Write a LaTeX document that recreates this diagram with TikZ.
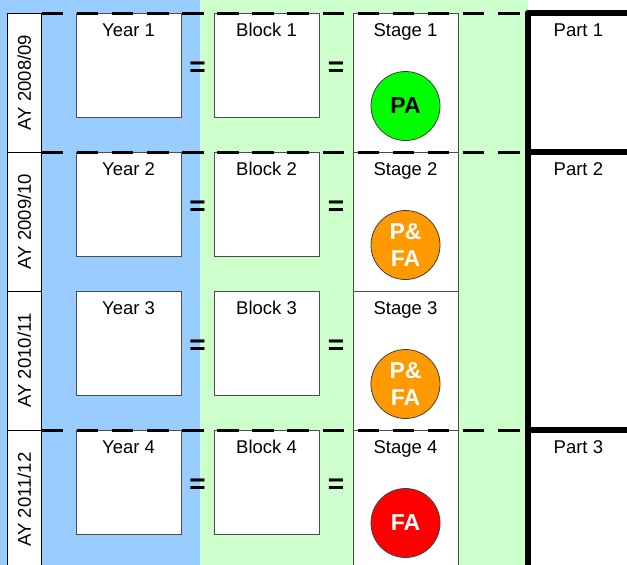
\documentclass[tikz,border=0pt]{standalone}
\usepackage{fontspec}
\setmainfont{Liberation Sans}
\usetikzlibrary{positioning,calc}
\definecolor{yearblue}{HTML}{99CCFF}
\definecolor{blockgreen}{HTML}{CCFFCC}
\definecolor{pagreen}{HTML}{00FF00}
\definecolor{pfaorange}{HTML}{FF9900}
\definecolor{fared}{HTML}{FF0000}
\tikzset{
    unit box/.style = {
        draw = black!70,
        line width = 1pt,
        fill = white,
        inner sep = 0pt,
        outer sep = 0pt,
        minimum width = 105pt,
        minimum height = 104pt,
        },
    stage box/.style = {
        unit box,
        minimum height = 139pt,
        },
    ay box/.style = {
        draw,
        line width = 1pt,
        fill = white,
        rotate = 90,
        minimum width = 139pt,
        minimum height = 34.7pt,
        outer sep = 0pt,
        font = \fontsize{18.5}{22}\selectfont,
        },
    head/.style = {
        inner sep = 0pt,
        text height = 13pt,
        text depth = 4pt,
        font = \fontsize{18.5}{22}\selectfont,
        },
    equals/.style = {
        inner sep = 0pt,
        yshift = -4pt,
        font = \fontsize{28}{28}\selectfont\bfseries,
        },
    assess/.style = {
        draw = black!75,
        circle,
        line width = 0.8pt,
        minimum size = 69pt,
        inner sep = 0pt,
        outer sep = 0pt,
        align = center,
        font = \fontsize{23}{27}\selectfont\bfseries,
        },
    part box/.style = {
        draw,
        line width = 6pt,
        fill = white,
        line join = round,
        minimum width = 112pt,
        outer sep = 0pt,
        },
    row line/.style = {
        line width = 3pt,
        dash pattern = on 21.5pt off 13.6pt,
        },
}

\begin{document}
\begin{tikzpicture}[x=1pt, y=-1pt]
    \clip (0,0) rectangle (627,565);
    \fill[yearblue] (0,0) rectangle (200,565);
    \fill[blockgreen] (200,0) rectangle (528,565);

    % academic years
    \node[ay box] (ay1) at (24.35,82.5) {AY 2008/09};
    \node[ay box] (ay2) at (24.35,221.5) {AY 2009/10};
    \node[ay box] (ay3) at (24.35,360.5) {AY 2010/11};
    \node[ay box] (ay4) at (24.35,499.5) {AY 2011/12};

    \node[unit box] (y1) at (128.5,65) {};
    \node[unit box, below=35pt of y1] (y2) {};
    \node[unit box, below=35pt of y2] (y3) {};
    \node[unit box, below=35pt of y3] (y4) {};

    \node[unit box, right=33pt of y1] (b1) {};
    \node[unit box, right=33pt of y2] (b2) {};
    \node[unit box, right=33pt of y3] (b3) {};
    \node[unit box, right=33pt of y4] (b4) {};

    \node[stage box, right=34pt of b1.north east, anchor=north west] (s1) {};
    \node[stage box, below=0pt of s1] (s2) {};
    \node[stage box, below=0pt of s2] (s3) {};
    \node[stage box, below=0pt of s3] (s4) {};

    \foreach \i in {1,...,4} {
        \node[head, below=10pt of y\i.north] (yt\i) {Year \i};
        \node[head, below=10pt of b\i.north] (bt\i) {Block \i};
        \node[head, below=10pt of s\i.north] (st\i) {Stage \i};
        \node[equals] (eq\i a) at ($(y\i.east)!0.5!(b\i.west)$) {=};
        \node[equals] (eq\i b) at ($(b\i.east)!0.5!(s\i.west |- b\i.west)$) {=};
    }

    \node[assess, fill=pagreen, below=58.5pt of s1.north] (c1) {PA};
    \node[assess, fill=pfaorange, text=white, below=58.5pt of s2.north] (c2) {P\&\\FA};
    \node[assess, fill=pfaorange, text=white, below=58.5pt of s3.north] (c3) {P\&\\FA};
    \node[assess, fill=fared, text=white, below=58.5pt of s4.north] (c4) {FA};

    % parts
    \node[part box, minimum height=139pt, right=69.5pt of s1.north east, anchor=north west] (p1) {};
    \node[part box, minimum height=278pt, below=0pt of p1] (p2) {};
    \node[part box, minimum height=139pt, below=0pt of p2] (p3) {};

    \draw[row line] (ay1.south east) -- (p1.north west);
    \draw[row line] (ay2.south east) -- (p2.north west);
    \draw[row line] (ay4.south east) -- (p3.north west);

    \node[head, below right=10pt and 26pt of p1.north west] (pt1) {Part 1};
    \node[head, below right=10pt and 26pt of p2.north west] (pt2) {Part 2};
    \node[head, below right=10pt and 26pt of p3.north west] (pt3) {Part 3};
\end{tikzpicture}
\end{document}
